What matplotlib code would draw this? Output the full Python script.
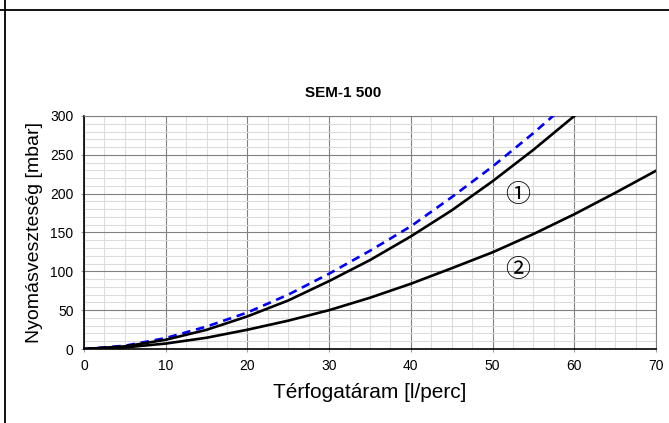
import matplotlib.pyplot as plt
from matplotlib.lines import Line2D
from matplotlib.ticker import MultipleLocator

plt.rcParams['font.family'] = ['Liberation Sans', 'DejaVu Sans']

# flow rate [l/min] and pressure loss [mbar] for each curve
flow = [0, 5, 10, 15, 20, 25, 30, 35, 40, 45, 50, 55, 60, 65, 70]
loss_1 = [0, 3.4, 11.9, 24.7, 42.0, 62.5, 87.5, 114.5, 145.0, 178.5, 216.0, 256.5, 300.0]
loss_2 = [0, 2.0, 7.0, 14.5, 24.8, 36.5, 50.0, 66.0, 84.0, 104.0, 124.5, 148.0, 173.5, 201.0, 229.5]
flow_ref = [0, 5, 10, 15, 20, 25, 30, 35, 40, 45, 50, 55, 57.5]
loss_ref = [0, 4.2, 14.1, 28.9, 47.0, 70.0, 97.0, 126.5, 158.0, 195.5, 235.0, 278.0, 301.0]

title = "SEM-1 500"
xlabel = "Térfogatáram [l/perc]"
ylabel = "Nyomásveszteség [mbar]"

fig = plt.figure(figsize=(6.69, 4.23), dpi=100)
ax = fig.add_axes([84 / 669, 74 / 423, 572 / 669, 233 / 423])

ax.plot(flow_ref, loss_ref, color="#0000ff", lw=1.9, ls=(0, (3.2, 2.2)), zorder=4)
ax.plot(flow[:len(loss_1)], loss_1, color="black", lw=1.9, zorder=5)
ax.plot(flow, loss_2, color="black", lw=1.9, zorder=5)

circled = ['Noto Sans CJK JP', 'DejaVu Sans']
ax.text(53.1, 198, "①", family=circled, fontsize=18, ha="center", va="center")
ax.text(53.1, 102, "②", family=circled, fontsize=18, ha="center", va="center")

ax.set_xlim(0, 70)
ax.set_ylim(0, 300)
ax.xaxis.set_major_locator(MultipleLocator(10))
ax.xaxis.set_minor_locator(MultipleLocator(2.5))
ax.yaxis.set_major_locator(MultipleLocator(50))
ax.yaxis.set_minor_locator(MultipleLocator(10))

ax.grid(which="major", color="#808080", lw=0.8)
ax.grid(which="minor", color="#dcdcdc", lw=0.8)
ax.set_axisbelow(True)

ax.tick_params(which="major", length=2.5, width=0.8, color="#a0a0a0",
               labelsize=10, pad=5)
ax.tick_params(which="minor", length=0)

for side in ("left", "bottom"):
    ax.spines[side].set_color("black")
    ax.spines[side].set_linewidth(1.2)
for side in ("top", "right"):
    ax.spines[side].set_color("#808080")
    ax.spines[side].set_linewidth(0.8)

ax.set_xlabel(xlabel, fontsize=15, labelpad=7)
ax.set_ylabel(ylabel, fontsize=14, labelpad=5)

fig.text(343 / 669, 1 - 93 / 423, title, fontsize=11, fontweight="bold",
         ha="center", va="center")

# frame lines along the top and left edge
fig.add_artist(Line2D([0, 1], [1 - 10 / 423, 1 - 10 / 423], color="black", lw=1.3,
                      transform=fig.transFigure))
fig.add_artist(Line2D([5 / 669, 5 / 669], [0, 1], color="black", lw=1.3,
                      transform=fig.transFigure))

fig.savefig("out.png", dpi=100)
